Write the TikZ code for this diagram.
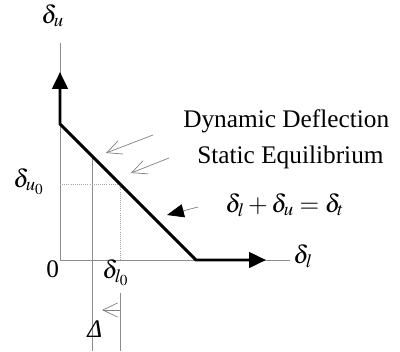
\documentclass[tikz,border=0pt]{standalone}
\usepackage{mathptmx}
\usepackage[no-math]{fontspec}
\setmainfont{Liberation Serif}
\usetikzlibrary{arrows.meta}

\begin{document}
\begin{tikzpicture}[
  x=0.025cm, y=-0.025cm,
  font=\fontsize{18}{21}\selectfont,
  axis/.style={draw=black!45, line width=0.6pt},
  guide/.style={draw=black!45, line width=0.6pt},
  dotguide/.style={draw=black!35, line width=0.5pt, densely dotted},
  trace/.style={draw=black, line width=2.1pt, line join=miter,
                {Triangle[length=12pt, width=11pt]}-{Triangle[length=12pt, width=11pt]}},
  hint/.style={draw=black!50, line width=0.5pt,
               -{Straight Barb[length=10.5pt, width=10pt]}},
  push/.style={draw=black!50, line width=0.5pt,
               -{Triangle[length=12pt, width=9.5pt, color=black]}},
  lbl/.style={inner sep=0pt, anchor=base west},
]
\useasboundingbox (0,0) rectangle (400,351);

% ======================= axes ===========================================
\coordinate (O)    at (60,260);
\coordinate (uEnd) at (60,43);
\coordinate (lEnd) at (290,260);
\draw[axis] (uEnd) -- (O) -- (lEnd);

% ======================= guides =========================================
\coordinate (A) at (60,124);   % knee on the u axis
\coordinate (B) at (196,260);  % knee on the l axis
\coordinate (P) at (120,184);  % static equilibrium
\coordinate (Q) at (92,156);
\coordinate (Qb) at (92,351);
\coordinate (Rt) at (120,293);
\coordinate (Rb) at (120,351);
\draw[guide] (Q) -- (Qb);
\draw[guide] (Rt) -- (Rb);
\draw[dotguide] (O |- P) -- (P) -- (P |- O);

% ======================= load path ======================================
\coordinate (uTip) at (60,72);
\coordinate (lTip) at (266,260);
\draw[trace] (uTip) -- (A) -- (B) -- (lTip);

% ======================= pointers =======================================
\coordinate (h1s) at (153,135); \coordinate (h1e) at (106,153);
\coordinate (h2s) at (169,158); \coordinate (h2e) at (131,173);
\coordinate (h3s) at (198,207); \coordinate (h3e) at (167,215);
\coordinate (dS)  at (120,310); \coordinate (dE)  at (102,310);
\draw[hint] (h1s) -- (h1e);
\draw[hint] (h2s) -- (h2e);
\draw[push] (h3s) -- (h3e);
\draw[hint] (dS) -- (dE);

% ======================= labels =========================================
\node[lbl] (du)  at (41,23)   {$\delta_u$};
\node[lbl] (dl)  at (293,263) {$\delta_l$};
\node[lbl] (du0) at (13,187)  {$\delta_{u_0}$};
\node[lbl] (dl0) at (102,278) {$\delta_{l_0}$};
\node[lbl] (zero) at (46,277) {0};
\node[lbl] (gap) at (87,337)  {\itshape Δ};
\node[lbl] (dyn) at (183,127) {Dynamic Deflection};
\node[lbl] (sta) at (197,163) {Static Equilibrium};
\node[lbl] (eq)  at (225,212) {$\delta_l+\delta_u=\delta_t$};
\end{tikzpicture}
\end{document}
